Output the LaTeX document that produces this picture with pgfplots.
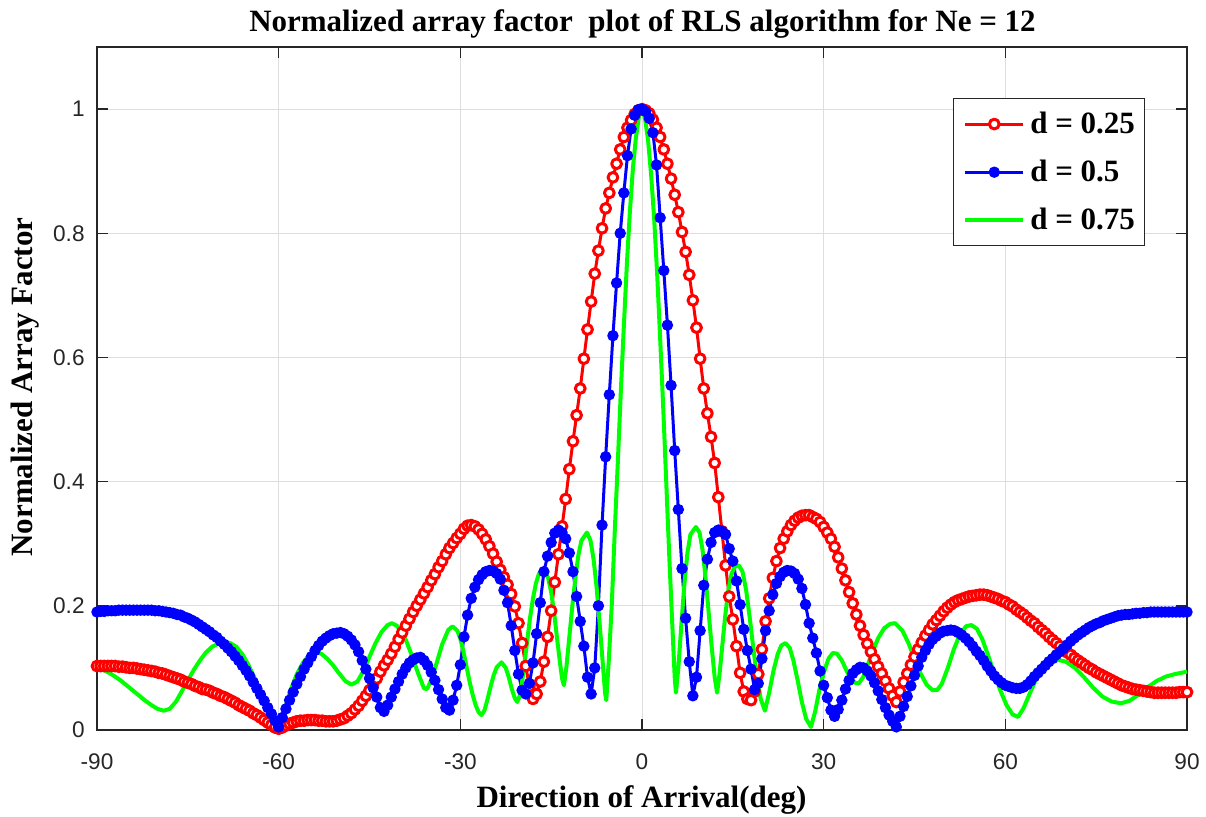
\documentclass[border=0pt]{standalone}
\usepackage{fontspec}
\setmainfont{Liberation Serif}
\newfontfamily\arial{Liberation Sans}
\usepackage{pgfplots}
\pgfplotsset{compat=1.18}
\definecolor{axgray}{gray}{0.15}
\definecolor{gridgray}{gray}{0.87}
\definecolor{mgreen}{rgb}{0,1,0}
\begin{document}
\begin{tikzpicture}
\useasboundingbox (-48.5pt,-43.5pt) rectangle (554.5pt,365pt);
\begin{axis}[
 at={(0,0)}, anchor=south west,
 scale only axis, width=545pt, height=341.5pt,
 xmin=-90, xmax=90, ymin=0, ymax=1.1,
 xtick={-90,-60,-30,0,30,60,90},
 xticklabels={-90,-60,-30,0,30,60,90},
 ytick={0,0.2,0.4,0.6,0.8,1},
 yticklabels={0,0.2,0.4,0.6,0.8,1},
 grid=major,
 grid style={gridgray, line width=0.5pt},
 axis line style={axgray, line width=0.7pt},
 tick style={axgray, line width=0.7pt},
 major tick length=5.5pt,
 tick align=inside,
 ticklabel style={font=\arial\fontsize{11.3}{13}\selectfont, text=axgray},
 xticklabel style={anchor=base, inner sep=0pt, yshift=-20pt},
 yticklabel style={anchor=east, inner sep=0pt, xshift=-6pt},
 clip=false,
 legend style={at={(0.9615,0.9253)}, anchor=north east, draw=axgray, line width=0.6pt, fill=white,
   font=\fontsize{15.5}{18}\selectfont\bfseries, inner xsep=4.75pt, inner ysep=6.6pt,
   row sep=11.8pt, column sep=2.5pt, nodes={inner sep=0pt}, cells={anchor=west}},
 legend image code/.code={\draw[mark repeat=2, mark phase=2, #1] plot coordinates {(0pt,0pt) (14.5pt,0pt) (29pt,0pt)};},
]
\addplot[red, line width=1.5pt, line join=round, mark=*, mark size=2.45pt, mark options={fill=white, draw=red, line width=1.5pt, solid}] coordinates {
(-90,0.103)(-89.4,0.103)(-88.8,0.103)(-88.2,0.103)(-87.6,0.103)(-87,0.103)(-86.4,0.102)(-85.8,0.102)(-85.2,0.101)(-84.6,0.100)(-84,0.100)(-83.4,0.099)(-82.8,0.098)(-82.2,0.097)(-81.6,0.096)(-81,0.095)(-80.4,0.094)(-79.8,0.092)(-79.2,0.091)(-78.6,0.089)(-78,0.087)(-77.4,0.085)(-76.8,0.083)(-76.2,0.081)(-75.6,0.078)(-75,0.076)(-74.4,0.074)(-73.8,0.071)(-73.2,0.069)(-72.6,0.066)(-72,0.065)(-71.4,0.063)(-70.8,0.060)(-70.2,0.058)(-69.6,0.055)(-69,0.053)(-68.4,0.050)(-67.8,0.047)(-67.2,0.044)(-66.6,0.040)(-66,0.037)(-65.4,0.034)(-64.8,0.031)(-64.2,0.027)(-63.6,0.024)(-63,0.020)(-62.4,0.016)(-61.8,0.012)(-61.2,0.008)(-60.6,0.004)(-60,0.002)(-59.4,0.004)(-58.8,0.007)(-58.2,0.010)(-57.6,0.012)(-57,0.014)(-56.4,0.015)(-55.8,0.015)(-55.2,0.016)(-54.6,0.016)(-54,0.016)(-53.4,0.015)(-52.8,0.015)(-52.2,0.014)(-51.6,0.014)(-51,0.014)(-50.4,0.015)(-49.8,0.017)(-49.2,0.019)(-48.6,0.023)(-48,0.027)(-47.4,0.033)(-46.8,0.039)(-46.2,0.047)(-45.6,0.055)(-45,0.064)(-44.4,0.074)(-43.8,0.083)(-43.2,0.094)(-42.6,0.104)(-42,0.113)(-41.4,0.123)(-40.8,0.134)(-40.2,0.146)(-39.6,0.157)(-39,0.168)(-38.4,0.179)(-37.8,0.190)(-37.2,0.200)(-36.6,0.210)(-36,0.220)(-35.4,0.230)(-34.8,0.241)(-34.2,0.251)(-33.6,0.262)(-33,0.272)(-32.4,0.283)(-31.8,0.293)(-31.2,0.301)(-30.6,0.309)
(-30,0.316)(-29.4,0.324)(-28.8,0.329)(-28.2,0.330)(-27.6,0.328)(-27,0.323)(-26.4,0.316)(-25.8,0.307)(-25.2,0.296)(-24.6,0.284)(-24,0.271)(-23.4,0.258)(-22.8,0.246)(-22.2,0.234)(-21.6,0.219)(-21,0.199)(-20.4,0.172)(-19.8,0.140)(-19.2,0.103)(-18.6,0.070)(-18,0.050)(-17.4,0.058)(-16.8,0.078)(-16.2,0.110)(-15.6,0.150)(-15,0.192)(-14.4,0.238)(-13.8,0.283)(-13.2,0.328)(-12.6,0.372)(-12,0.420)(-11.4,0.465)(-10.8,0.507)(-10.2,0.550)(-9.6,0.598)(-9,0.645)(-8.4,0.690)(-7.8,0.735)(-7.2,0.772)(-6.6,0.808)(-6,0.840)(-5.4,0.865)(-4.8,0.890)(-4.2,0.912)(-3.6,0.935)(-3,0.955)(-2.4,0.970)(-1.8,0.982)(-1.2,0.992)(-0.6,0.998)(0,1.000)(0.6,0.998)(1.2,0.993)(1.8,0.983)(2.4,0.970)(3,0.955)(3.6,0.935)(4.2,0.912)(4.8,0.888)(5.4,0.862)(6,0.834)(6.6,0.802)(7.2,0.770)(7.8,0.733)(8.4,0.692)(9,0.648)(9.6,0.598)(10.2,0.550)(10.8,0.510)(11.4,0.472)(12,0.430)(12.6,0.375)(13.2,0.320)(13.8,0.265)(14.4,0.215)(15,0.178)(15.6,0.135)(16.2,0.092)(16.8,0.062)(17.4,0.050)(18,0.048)(18.6,0.062)(19.2,0.090)(19.8,0.130)(20.4,0.175)(21,0.212)(21.6,0.245)(22.2,0.272)(22.8,0.293)(23.4,0.308)(24,0.320)(24.6,0.330)(25.2,0.337)(25.8,0.342)(26.4,0.345)(27,0.346)(27.6,0.346)(28.2,0.343)(28.8,0.340)(29.4,0.335)(30,0.327)
(30.6,0.318)(31.2,0.308)(31.8,0.295)(32.4,0.278)(33,0.260)(33.6,0.241)(34.2,0.222)(34.8,0.204)(35.4,0.186)(36,0.168)(36.6,0.153)(37.2,0.139)(37.8,0.126)(38.4,0.114)(39,0.102)(39.6,0.091)(40.2,0.079)(40.8,0.067)(41.4,0.055)(42,0.045)(42.6,0.062)(43.2,0.077)(43.8,0.091)(44.4,0.105)(45,0.118)(45.6,0.130)(46.2,0.141)(46.8,0.152)(47.4,0.161)(48,0.170)(48.6,0.177)(49.2,0.184)(49.8,0.191)(50.4,0.197)(51,0.202)(51.6,0.206)(52.2,0.209)(52.8,0.211)(53.4,0.213)(54,0.215)(54.6,0.216)(55.2,0.217)(55.8,0.218)(56.4,0.218)(57,0.217)(57.6,0.215)(58.2,0.213)(58.8,0.211)(59.4,0.208)(60,0.206)(60.6,0.202)(61.2,0.199)(61.8,0.194)(62.4,0.190)(63,0.186)(63.6,0.181)(64.2,0.176)(64.8,0.172)(65.4,0.166)(66,0.161)(66.6,0.156)(67.2,0.150)(67.8,0.145)(68.4,0.140)(69,0.135)(69.6,0.130)(70.2,0.125)(70.8,0.121)(71.4,0.116)(72,0.112)(72.6,0.108)(73.2,0.104)(73.8,0.100)(74.4,0.097)(75,0.093)(75.6,0.090)(76.2,0.087)(76.8,0.084)(77.4,0.081)(78,0.078)(78.6,0.075)(79.2,0.072)(79.8,0.070)(80.4,0.068)(81,0.066)(81.6,0.065)(82.2,0.064)(82.8,0.063)(83.4,0.062)(84,0.061)(84.6,0.060)(85.2,0.060)(85.8,0.060)(86.4,0.060)(87,0.060)(87.6,0.060)(88.2,0.060)(88.8,0.061)(89.4,0.061)(90,0.061)
};
\addlegendentry{d = 0.25}
\addplot[blue, line width=1.5pt, line join=round, mark=*, mark size=2.6pt, mark options={fill=blue, draw=blue, line width=0.5pt, solid}] coordinates {
(-90,0.190)(-89.4,0.191)(-88.8,0.191)(-88.2,0.192)(-87.6,0.192)(-87,0.192)(-86.4,0.193)(-85.8,0.193)(-85.2,0.193)(-84.6,0.193)(-84,0.193)(-83.4,0.193)(-82.8,0.193)(-82.2,0.193)(-81.6,0.193)(-81,0.193)(-80.4,0.192)(-79.8,0.192)(-79.2,0.191)(-78.6,0.190)(-78,0.189)(-77.4,0.188)(-76.8,0.186)(-76.2,0.185)(-75.6,0.182)(-75,0.180)(-74.4,0.177)(-73.8,0.174)(-73.2,0.170)(-72.6,0.166)(-72,0.162)(-71.4,0.158)(-70.8,0.153)(-70.2,0.149)(-69.6,0.143)(-69,0.138)(-68.4,0.132)(-67.8,0.126)(-67.2,0.119)(-66.6,0.112)(-66,0.104)(-65.4,0.096)(-64.8,0.087)(-64.2,0.077)(-63.6,0.067)(-63,0.057)(-62.4,0.047)(-61.8,0.036)(-61.2,0.026)(-60.6,0.015)(-60,0.005)(-59.4,0.020)(-58.8,0.034)(-58.2,0.048)(-57.6,0.061)(-57,0.074)(-56.4,0.086)(-55.8,0.098)(-55.2,0.108)(-54.6,0.118)(-54,0.128)(-53.4,0.136)(-52.8,0.143)(-52.2,0.148)(-51.6,0.152)(-51,0.155)(-50.4,0.156)(-49.8,0.157)(-49.2,0.155)(-48.6,0.151)(-48,0.145)(-47.4,0.137)(-46.8,0.126)(-46.2,0.112)(-45.6,0.098)(-45,0.083)(-44.4,0.068)(-43.8,0.053)(-43.2,0.036)(-42.6,0.030)(-42,0.040)(-41.4,0.053)(-40.8,0.066)(-40.2,0.078)(-39.6,0.090)(-39,0.100)(-38.4,0.108)(-37.8,0.113)(-37.2,0.116)(-36.6,0.117)(-36,0.112)(-35.4,0.104)(-34.8,0.093)(-34.2,0.080)(-33.6,0.065)(-33,0.050)(-32.4,0.036)(-31.8,0.032)(-31.2,0.048)(-30.6,0.072)
(-30,0.105)(-29.4,0.150)(-28.8,0.185)(-28.2,0.212)(-27.6,0.230)(-27,0.242)(-26.4,0.250)(-25.8,0.255)(-25.2,0.257)(-24.6,0.256)(-24,0.252)(-23.4,0.243)(-22.8,0.225)(-22.2,0.205)(-21.6,0.168)(-21,0.128)(-20.4,0.090)(-19.8,0.064)(-19.2,0.058)(-18.6,0.075)(-18,0.108)(-17.4,0.155)(-16.8,0.205)(-16.2,0.255)(-15.6,0.280)(-15,0.302)(-14.4,0.317)(-13.8,0.322)(-13.2,0.318)(-12.6,0.308)(-12,0.285)(-11.4,0.255)(-10.8,0.215)(-10.2,0.175)(-9.6,0.135)(-9,0.085)(-8.4,0.058)(-7.8,0.100)(-7.2,0.200)(-6.6,0.330)(-6,0.440)(-5.4,0.540)(-4.8,0.635)(-4.2,0.720)(-3.6,0.800)(-3,0.865)(-2.4,0.925)(-1.8,0.968)(-1.2,0.990)(-0.6,0.999)(0,1.000)(0.6,0.996)(1.2,0.985)(1.8,0.962)(2.4,0.910)(3,0.825)(3.6,0.740)(4.2,0.652)(4.8,0.555)(5.4,0.450)(6,0.355)(6.6,0.260)(7.2,0.180)(7.8,0.110)(8.4,0.055)(9,0.085)(9.6,0.160)(10.2,0.233)(10.8,0.275)(11.4,0.302)(12,0.318)(12.6,0.322)(13.2,0.320)(13.8,0.315)(14.4,0.292)(15,0.272)(15.6,0.240)(16.2,0.202)(16.8,0.162)(17.4,0.128)(18,0.098)(18.6,0.065)(19.2,0.075)(19.8,0.115)(20.4,0.160)(21,0.192)(21.6,0.218)(22.2,0.236)(22.8,0.247)(23.4,0.254)(24,0.257)(24.6,0.256)(25.2,0.252)(25.8,0.243)(26.4,0.228)(27,0.202)(27.6,0.172)(28.2,0.148)(28.8,0.124)(29.4,0.095)(30,0.072)
(30.6,0.052)(31.2,0.032)(31.8,0.022)(32.4,0.033)(33,0.048)(33.6,0.066)(34.2,0.080)(34.8,0.091)(35.4,0.097)(36,0.101)(36.6,0.100)(37.2,0.095)(37.8,0.087)(38.4,0.076)(39,0.063)(39.6,0.049)(40.2,0.036)(40.8,0.024)(41.4,0.014)(42,0.005)(42.6,0.022)(43.2,0.038)(43.8,0.054)(44.4,0.071)(45,0.088)(45.6,0.103)(46.2,0.117)(46.8,0.128)(47.4,0.138)(48,0.146)(48.6,0.151)(49.2,0.156)(49.8,0.159)(50.4,0.160)(51,0.161)(51.6,0.160)(52.2,0.157)(52.8,0.153)(53.4,0.148)(54,0.142)(54.6,0.135)(55.2,0.127)(55.8,0.120)(56.4,0.112)(57,0.103)(57.6,0.095)(58.2,0.087)(58.8,0.081)(59.4,0.076)(60,0.072)(60.6,0.070)(61.2,0.068)(61.8,0.067)(62.4,0.067)(63,0.069)(63.6,0.073)(64.2,0.079)(64.8,0.086)(65.4,0.092)(66,0.098)(66.6,0.104)(67.2,0.110)(67.8,0.115)(68.4,0.121)(69,0.126)(69.6,0.131)(70.2,0.137)(70.8,0.143)(71.4,0.148)(72,0.153)(72.6,0.157)(73.2,0.161)(73.8,0.165)(74.4,0.168)(75,0.171)(75.6,0.173)(76.2,0.176)(76.8,0.178)(77.4,0.180)(78,0.182)(78.6,0.184)(79.2,0.185)(79.8,0.186)(80.4,0.186)(81,0.187)(81.6,0.188)(82.2,0.188)(82.8,0.189)(83.4,0.189)(84,0.190)(84.6,0.190)(85.2,0.190)(85.8,0.190)(86.4,0.190)(87,0.190)(87.6,0.190)(88.2,0.190)(88.8,0.190)(89.4,0.190)(90,0.190)
};
\addlegendentry{d = 0.5}
\addplot[mgreen, line width=2pt, line join=round] coordinates {
(-90,0.100)(-89,0.097)(-88,0.092)(-87,0.086)(-86,0.079)(-85,0.071)(-84,0.063)(-83,0.055)(-82,0.047)(-81,0.040)(-80,0.034)(-79,0.031)(-78,0.034)(-77,0.045)(-76,0.062)(-75,0.080)(-74,0.097)(-73,0.112)(-72,0.125)(-71,0.134)(-70,0.139)(-69,0.141)(-68,0.140)(-67,0.134)(-66,0.122)(-65,0.105)(-64,0.084)(-63,0.062)(-62,0.040)(-61,0.020)(-60.2,0.004)(-59.5,0.020)(-59,0.035)(-58,0.065)(-57,0.090)(-56,0.108)(-55,0.120)(-54,0.125)(-53,0.123)(-52,0.115)(-51,0.104)(-50,0.091)(-49,0.079)(-48,0.073)(-47,0.078)(-46,0.095)(-45,0.118)(-44,0.140)(-43,0.158)(-42,0.169)(-41.3,0.172)(-40.5,0.168)(-40,0.162)(-39,0.145)(-38,0.120)(-37,0.092)(-36,0.067)(-35.5,0.066)(-35,0.076)(-34,0.105)(-33,0.138)(-32,0.161)(-31.3,0.167)(-30.5,0.160)(-30,0.147)(-29.5,0.127)(-29,0.103)(-28.5,0.079)(-28,0.058)(-27.5,0.041)(-27,0.029)(-26.5,0.024)(-26,0.032)(-25.5,0.050)(-25,0.070)(-24.5,0.088)(-24,0.101)(-23.2,0.109)(-22.5,0.100)(-22,0.085)(-21.5,0.066)(-21,0.051)(-20.6,0.045)(-20.2,0.055)(-19.8,0.078)(-19.4,0.108)(-19,0.140)(-18.5,0.180)(-18,0.212)(-17.5,0.237)(-17,0.252)(-16.2,0.257)(-15.5,0.245)(-15,0.222)(-14.5,0.188)(-14,0.145)(-13.5,0.105)(-13.2,0.083)(-12.9,0.072)(-12.5,0.100)(-12,0.150)(-11.5,0.200)(-11,0.245)(-10.5,0.282)(-10,0.305)(-9.1,0.318)(-8.5,0.305)(-8,0.275)(-7.5,0.230)(-7,0.172)(-6.5,0.110)(-6.1,0.060)(-5.9,0.048)(-5.5,0.110)(-5,0.200)(-4.5,0.320)(-4,0.430)(-3.5,0.545)(-3,0.650)(-2.5,0.750)(-2,0.835)(-1.5,0.905)(-1,0.955)(-0.5,0.988)(-0.2,1.000)(0.2,0.995)(0.5,0.985)(1,0.950)(1.5,0.895)(2,0.825)(2.5,0.735)(3,0.630)(3.5,0.520)(4,0.400)(4.5,0.280)(5,0.170)(5.4,0.085)(5.6,0.060)(6,0.100)(6.5,0.170)(7,0.235)(7.5,0.285)(8,0.315)(8.9,0.327)(9.5,0.318)(10,0.290)(10.5,0.245)(11,0.190)(11.5,0.135)(12,0.085)(12.4,0.060)(12.8,0.090)(13.2,0.130)(13.7,0.180)(14.2,0.222)(14.8,0.252)(15.4,0.264)(16,0.265)(16.6,0.255)(17.2,0.225)(17.8,0.180)(18.4,0.130)(19,0.085)(19.6,0.050)(20.3,0.031)(21,0.060)(21.7,0.095)(22.4,0.122)(23,0.136)(23.7,0.140)(24.4,0.132)(25,0.112)(25.7,0.080)(26.4,0.045)(27.1,0.018)(27.9,0.005)(28.6,0.030)(29.3,0.065)(30,0.092)(30.8,0.115)(31.5,0.124)(32.2,0.123)(33,0.112)(33.8,0.095)(34.6,0.081)(35.2,0.076)(35.8,0.075)(36.5,0.085)(37.2,0.103)(38,0.124)(39,0.148)(40,0.164)(41,0.171)(41.8,0.172)(43,0.160)(44,0.140)(45,0.115)(46,0.091)(47,0.073)(48,0.064)(48.7,0.064)(49.5,0.074)(50.5,0.100)(51.5,0.130)(52.5,0.154)(53.5,0.167)(54.4,0.169)(55.3,0.163)(56.2,0.146)(57.2,0.119)(58.2,0.090)(59.2,0.063)(60.2,0.040)(61.2,0.025)(62.1,0.021)(63,0.035)(64,0.058)(65,0.080)(66,0.097)(67,0.108)(68.7,0.113)(70,0.110)(71.5,0.100)(73,0.085)(74.5,0.068)(76,0.054)(77.5,0.046)(79.1,0.043)(80.5,0.047)(82,0.057)(83.5,0.069)(85,0.079)(86.5,0.086)(88,0.090)(90,0.094)
};
\addlegendentry{d = 0.75}
\end{axis}
\node[anchor=base, font=\fontsize{15.5}{18}\selectfont\bfseries] at (272.75pt,349.15pt) {Normalized array factor\ \ plot of RLS algorithm for Ne = 12};
\node[anchor=base, font=\fontsize{15.5}{18}\selectfont\bfseries] at (272.25pt,-39pt) {Direction of Arrival(deg)};
\node[anchor=base, rotate=90, font=\fontsize{15.5}{18}\selectfont\bfseries] at (-32.25pt,171.5pt) {Normalized Array Factor};
\end{tikzpicture}
\end{document}
